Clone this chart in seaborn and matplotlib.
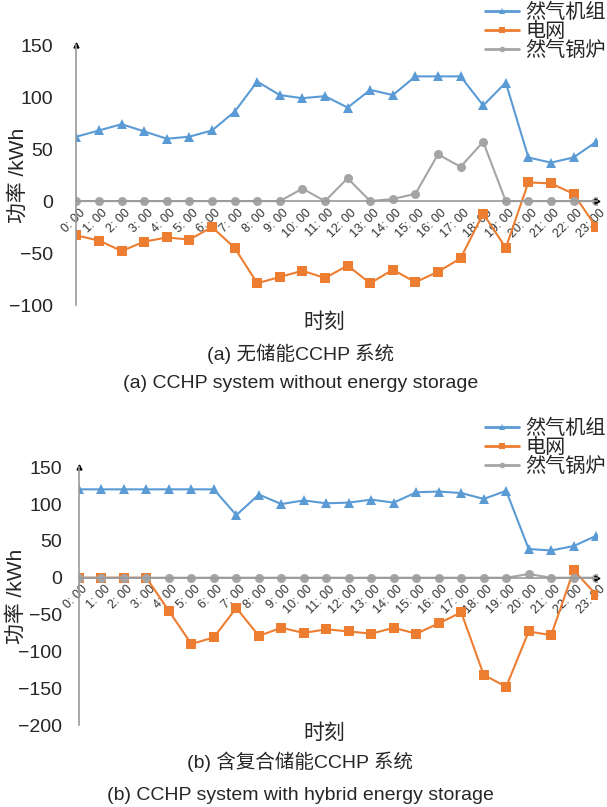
import numpy as np
import pandas as pd
import seaborn as sns
import matplotlib.pyplot as plt
import matplotlib.transforms as mtransforms

# === data ===
hours = list(range(24))
hour_labels = [f"{h}: 00" for h in hours]
series_names = ["然气机组", "电网", "然气锅炉"]

gas_a = [62, 68, 74, 67, 60, 62, 68, 86, 115, 102, 99, 101, 90, 107, 102, 120,
         120, 120, 92, 114, 42, 37, 42, 57]
grid_a = [-33, -38, -48, -39, -35, -37, -25, -45, -79, -73, -67, -74, -62, -79,
          -66, -78, -68, -55, -12, -45, 18, 17, 7, -25]
boiler_a = [0, 0, 0, 0, 0, 0, 0, 0, 0, 0, 12, 0, 22, 0, 2, 7, 45, 33, 57, 0,
            0, 0, 0, 0]

gas_b = [120, 120, 120, 120, 120, 120, 120, 85, 113, 100, 105, 101, 102, 106,
         102, 116, 117, 115, 107, 118, 39, 37, 43, 57]
grid_b = [0, 0, 0, 0, -45, -90, -81, -41, -79, -68, -75, -70, -73, -76, -68,
          -76, -62, -47, -132, -148, -73, -78, 10, -23]
boiler_b = [0, 0, 0, 0, 0, 0, 0, 0, 0, 0, 0, 0, 0, 0, 0, 0, 0, 0, 0, 0,
            5, 0, 0, 0]

captions_a = ["(a) 无储能CCHP 系统", "(a) CCHP system without energy storage"]
captions_b = ["(b) 含复合储能CCHP 系统", "(b) CCHP system with hybrid energy storage"]

palette = {"然气机组": "#5B9BD5", "电网": "#ED7D31", "然气锅炉": "#A5A5A5"}
markers = {"然气机组": "^", "电网": "s", "然气锅炉": "o"}

sns.set_style("white")
plt.rcParams["font.family"] = ["Liberation Sans", "Noto Sans CJK SC", "DejaVu Sans"]
plt.rcParams["axes.unicode_minus"] = True


def make_df(gas, grid, boiler):
    frames = []
    for name, vals in zip(series_names, [gas, grid, boiler]):
        frames.append(pd.DataFrame({"hour": hours, "value": vals, "series": name}))
    return pd.concat(frames, ignore_index=True)


def draw_panel(ax, df, ylim, yticks, leg_anchor, fig, ypad, ylab_x):
    sns.lineplot(data=df, x="hour", y="value", hue="series", style="series",
                 hue_order=series_names, style_order=series_names,
                 palette=palette, markers=markers, dashes=False,
                 markersize=6.5, linewidth=1.5, markeredgewidth=0,
                 ax=ax, legend=False)
    for s in ["top", "right"]:
        ax.spines[s].set_visible(False)
    # x axis sits on y = 0 (set before tick labels, it resets ticks)
    ax.spines["bottom"].set_position(("data", 0))
    ax.spines["bottom"].set_color("#9A9A9A")
    ax.spines["left"].set_color("#9A9A9A")
    ax.spines["bottom"].set_linewidth(1.2)
    ax.spines["left"].set_linewidth(1.2)

    ax.set_xlim(0, 23.05)
    ax.set_ylim(*ylim)
    ax.set_yticks(yticks)
    ax.tick_params(axis="y", labelsize=14, length=3, color="#9A9A9A", pad=ypad)
    ax.set_xticks(hours)
    ax.set_xticklabels(hour_labels, rotation=45, ha="right", va="center",
                       rotation_mode="anchor", fontsize=9, color="#333333")
    ax.tick_params(axis="x", length=0, pad=7)
    shift = mtransforms.ScaledTranslation(5 / 72, 0, fig.dpi_scale_trans)
    for lab in ax.get_xticklabels():
        lab.set_transform(lab.get_transform() + shift)

    ax.set_xlabel("")
    ax.set_ylabel("功率 /kWh", fontsize=15)
    ax.yaxis.set_label_coords(ylab_x, 0.5)
    # small arrow heads on the axes
    ax.plot(0, 1, marker="^", color="black", ms=3.5, transform=ax.transAxes, clip_on=False)
    ax.plot(1.0, 0, marker=">", color="black", ms=3.5,
            transform=ax.get_yaxis_transform(), clip_on=False)
    handles = [plt.Line2D([], [], color=palette[n], marker=markers[n], ms=4,
                          mew=0, lw=2) for n in series_names]
    fig.legend(handles, series_names, loc="upper right", bbox_to_anchor=leg_anchor,
               frameon=False, fontsize=14.5, handlelength=1.7, handletextpad=0.3,
               labelspacing=0.0, borderpad=0.1)


fig = plt.figure(figsize=(6.07, 8.07), dpi=100)
ax1 = fig.add_axes([0.126, 0.622, 0.858, 0.322])
ax2 = fig.add_axes([0.130, 0.1016, 0.854, 0.3194])

draw_panel(ax1, make_df(gas_a, grid_a, boiler_a), (-100, 150),
           [-100, -50, 0, 50, 100, 150], (1.018, 1.012), fig, 14, -0.094)
draw_panel(ax2, make_df(gas_b, grid_b, boiler_b), (-200, 150),
           [-200, -150, -100, -50, 0, 50, 100, 150], (1.018, 0.496), fig, 9, -0.102)

fig.text(0.535, 1 - 322 / 807, "时刻", ha="center", va="center", fontsize=15)
fig.text(0.495, 1 - 354 / 807, captions_a[0], ha="center", va="center", fontsize=14)
fig.text(0.495, 1 - 384 / 807, captions_a[1], ha="center", va="center", fontsize=14)
fig.text(0.535, 1 - 733 / 807, "时刻", ha="center", va="center", fontsize=15)
fig.text(0.495, 1 - 762 / 807, captions_b[0], ha="center", va="center", fontsize=14)
fig.text(0.495, 1 - 795 / 807, captions_b[1], ha="center", va="center", fontsize=14)

fig.savefig("out.png", dpi=100)
